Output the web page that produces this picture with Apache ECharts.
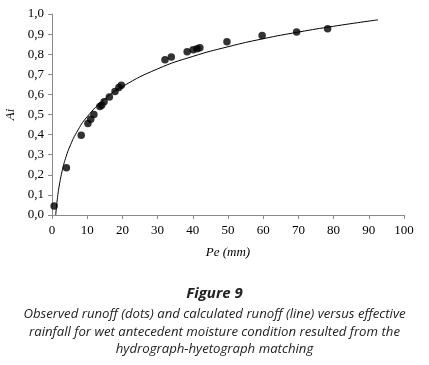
<!DOCTYPE html>
<html>
<head>
<meta charset="utf-8">
<script src="https://cdn.jsdelivr.net/npm/echarts@6/dist/echarts.min.js"></script>
<style>
  html, body { margin: 0; padding: 0; background: #fff; }
  #chart { width: 429px; height: 365px; }
</style>
</head>
<body>
<div id="chart"></div>
<script>
// observed runoff (dots): Pe (mm), Ai
const obsPe = [0.6, 4.1, 8.3, 10.2, 11.0, 11.9, 13.6, 14.1, 14.8, 16.3, 17.9, 19.0, 19.7,
  32.1, 33.9, 38.4, 40.1, 41.2, 42.0, 49.7, 59.7, 69.5, 78.3];
const obsAi = [0.045, 0.235, 0.397, 0.455, 0.476, 0.500, 0.540, 0.546, 0.563, 0.587, 0.615, 0.634, 0.645,
  0.773, 0.786, 0.812, 0.822, 0.827, 0.832, 0.862, 0.893, 0.911, 0.926];

// calculated runoff (line)
const calcPe = [1.05, 1.5, 2, 3, 4, 5, 7, 10, 15, 20, 30, 40, 50, 60, 70, 80, 92.6];
const calcAi = [0.0, 0.077, 0.140, 0.228, 0.290, 0.338, 0.411, 0.489, 0.577, 0.639,
  0.727, 0.789, 0.837, 0.877, 0.910, 0.939, 0.971];

const captionTitle = 'Figure 9';
const captionLines = [
  'Observed runoff (dots) and calculated runoff (line) versus effective',
  'rainfall for wet antecedent moisture condition resulted from the',
  'hydrograph-hyetograph matching'
];

const chart = echarts.init(document.getElementById('chart'), null, { renderer: 'canvas' });

const serif = '"Liberation Serif", "DejaVu Serif", serif';
const sans = '"Open Sans", "Noto Sans", sans-serif';
const axisGray = '#8a8a8a';

const option = {
  animation: false,
  backgroundColor: '#fff',
  grid: { left: 52, right: 25, top: 14, bottom: 150, containLabel: false, outerBoundsMode: 'none' },
  graphic: [
    {
      type: 'text',
      x: 214.5, y: 294,
      style: {
        text: captionTitle, align: 'center', verticalAlign: 'middle',
        font: 'italic bold 15px ' + sans, fill: '#222'
      }
    },
    {
      type: 'text',
      x: 214.5, y: 305.5,
      style: {
        text: captionLines.join('\n'), align: 'center', verticalAlign: 'top',
        font: 'italic 13.2px ' + sans, lineHeight: 17.5, fill: '#222'
      }
    }
  ],
  xAxis: {
    type: 'value',
    min: 0, max: 100, interval: 10,
    name: 'Pe (mm)',
    nameLocation: 'middle',
    nameGap: 31,
    nameTextStyle: { fontFamily: serif, fontSize: 13, fontStyle: 'italic', color: '#000' },
    axisLine: { show: true, lineStyle: { color: axisGray, width: 1 } },
    axisTick: { show: true, inside: false, length: 4, lineStyle: { color: axisGray } },
    axisLabel: { fontFamily: serif, fontSize: 13, color: '#000', margin: 9 },
    splitLine: { show: false }
  },
  yAxis: {
    type: 'value',
    min: 0, max: 1, interval: 0.1,
    name: 'Ai',
    nameLocation: 'middle',
    nameGap: 31,
    nameRotate: 90,
    nameTextStyle: { fontFamily: serif, fontSize: 13, fontStyle: 'italic', color: '#000' },
    axisLine: { show: true, lineStyle: { color: axisGray, width: 1 } },
    axisTick: { show: true, inside: false, length: 4, lineStyle: { color: axisGray } },
    axisLabel: {
      fontFamily: serif, fontSize: 13, color: '#000', margin: 8,
      formatter: v => v.toFixed(1).replace('.', ',')
    },
    splitLine: { show: false }
  },
  series: [
    {
      type: 'line',
      data: calcPe.map((x, i) => [x, calcAi[i]]),
      smooth: true,
      showSymbol: false,
      lineStyle: { color: '#000', width: 1 },
      z: 2
    },
    {
      type: 'scatter',
      data: obsPe.map((x, i) => [x, obsAi[i]]),
      symbol: 'circle',
      symbolSize: 7.5,
      itemStyle: { color: '#000' },
      z: 3
    }
  ]
};

chart.setOption(option);
</script>
</body>
</html>
